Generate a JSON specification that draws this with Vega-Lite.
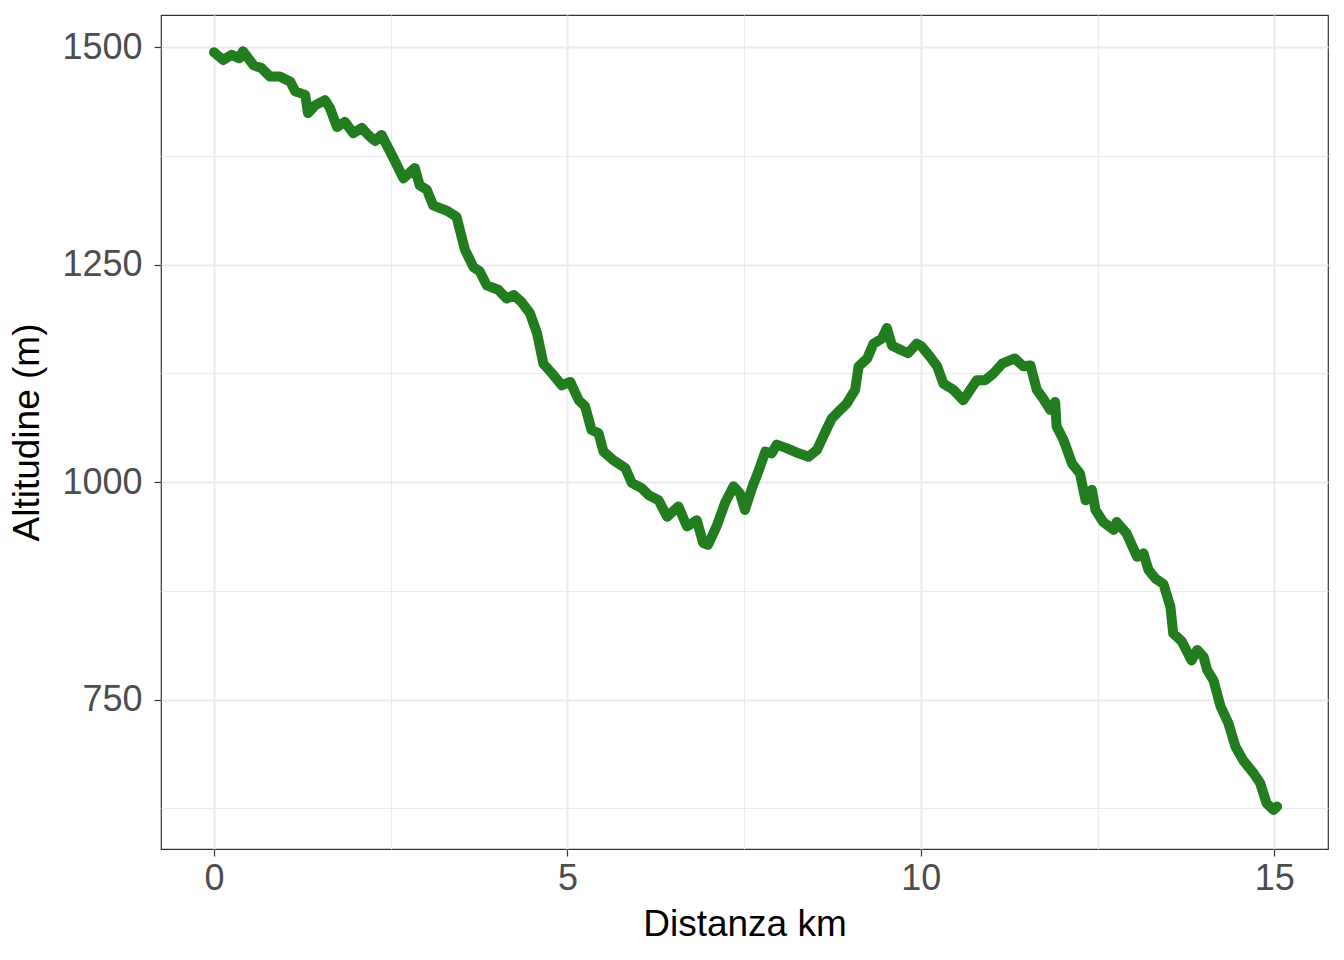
{
  "$schema": "https://vega.github.io/schema/vega-lite/v6.json",
  "width": 1167,
  "height": 834,
  "autosize": {"type": "none"},
  "padding": {"left": 161, "top": 15, "right": 16, "bottom": 111},
  "background": "white",
  "config": {
    "view": {"stroke": "#333333", "strokeWidth": 1.2},
    "font": "Liberation Sans"
  },
  "data": {
    "values": [
      {"km": 0.00, "alt": 1494}, {"km": 0.13, "alt": 1485}, {"km": 0.25, "alt": 1491}, {"km": 0.36, "alt": 1487},
      {"km": 0.41, "alt": 1495}, {"km": 0.56, "alt": 1479}, {"km": 0.67, "alt": 1476}, {"km": 0.79, "alt": 1466},
      {"km": 0.93, "alt": 1466}, {"km": 1.08, "alt": 1460}, {"km": 1.15, "alt": 1449}, {"km": 1.29, "alt": 1445},
      {"km": 1.33, "alt": 1424}, {"km": 1.43, "alt": 1433}, {"km": 1.57, "alt": 1439}, {"km": 1.64, "alt": 1430},
      {"km": 1.74, "alt": 1408}, {"km": 1.85, "alt": 1414}, {"km": 1.97, "alt": 1401}, {"km": 2.09, "alt": 1407},
      {"km": 2.18, "alt": 1399}, {"km": 2.28, "alt": 1392}, {"km": 2.37, "alt": 1399}, {"km": 2.54, "alt": 1372},
      {"km": 2.68, "alt": 1349}, {"km": 2.84, "alt": 1361}, {"km": 2.91, "alt": 1341}, {"km": 3.01, "alt": 1336},
      {"km": 3.10, "alt": 1318}, {"km": 3.29, "alt": 1312}, {"km": 3.43, "alt": 1305}, {"km": 3.55, "alt": 1267},
      {"km": 3.67, "alt": 1247}, {"km": 3.76, "alt": 1242}, {"km": 3.86, "alt": 1226}, {"km": 4.02, "alt": 1221},
      {"km": 4.14, "alt": 1211}, {"km": 4.24, "alt": 1215}, {"km": 4.35, "alt": 1207}, {"km": 4.47, "alt": 1194},
      {"km": 4.57, "alt": 1171}, {"km": 4.66, "alt": 1136}, {"km": 4.78, "alt": 1125}, {"km": 4.92, "alt": 1111},
      {"km": 5.04, "alt": 1115}, {"km": 5.16, "alt": 1094}, {"km": 5.25, "alt": 1087}, {"km": 5.34, "alt": 1060},
      {"km": 5.44, "alt": 1056}, {"km": 5.51, "alt": 1035}, {"km": 5.65, "alt": 1025}, {"km": 5.82, "alt": 1016},
      {"km": 5.91, "alt": 999}, {"km": 6.05, "alt": 993}, {"km": 6.15, "alt": 985}, {"km": 6.29, "alt": 979},
      {"km": 6.41, "alt": 960}, {"km": 6.57, "alt": 972}, {"km": 6.69, "alt": 949}, {"km": 6.83, "alt": 956},
      {"km": 6.92, "alt": 930}, {"km": 6.99, "alt": 928}, {"km": 7.11, "alt": 949}, {"km": 7.23, "alt": 976},
      {"km": 7.35, "alt": 995}, {"km": 7.44, "alt": 987}, {"km": 7.51, "alt": 968}, {"km": 7.61, "alt": 993},
      {"km": 7.70, "alt": 1012}, {"km": 7.80, "alt": 1035}, {"km": 7.89, "alt": 1033}, {"km": 7.96, "alt": 1043},
      {"km": 8.10, "alt": 1039}, {"km": 8.27, "alt": 1033}, {"km": 8.41, "alt": 1029}, {"km": 8.53, "alt": 1037},
      {"km": 8.65, "alt": 1058}, {"km": 8.74, "alt": 1073}, {"km": 8.86, "alt": 1083}, {"km": 8.95, "alt": 1090},
      {"km": 9.07, "alt": 1106}, {"km": 9.12, "alt": 1133}, {"km": 9.24, "alt": 1142}, {"km": 9.33, "alt": 1159},
      {"km": 9.45, "alt": 1165}, {"km": 9.52, "alt": 1177}, {"km": 9.59, "alt": 1157}, {"km": 9.71, "alt": 1152},
      {"km": 9.82, "alt": 1148}, {"km": 9.94, "alt": 1159}, {"km": 10.01, "alt": 1156}, {"km": 10.13, "alt": 1144},
      {"km": 10.23, "alt": 1133}, {"km": 10.32, "alt": 1113}, {"km": 10.46, "alt": 1106}, {"km": 10.60, "alt": 1094},
      {"km": 10.70, "alt": 1106}, {"km": 10.79, "alt": 1117}, {"km": 10.91, "alt": 1117}, {"km": 11.03, "alt": 1125},
      {"km": 11.15, "alt": 1136}, {"km": 11.33, "alt": 1142}, {"km": 11.45, "alt": 1133}, {"km": 11.55, "alt": 1134},
      {"km": 11.64, "alt": 1106}, {"km": 11.73, "alt": 1096}, {"km": 11.83, "alt": 1083}, {"km": 11.90, "alt": 1092},
      {"km": 11.92, "alt": 1064}, {"km": 12.02, "alt": 1048}, {"km": 12.14, "alt": 1021}, {"km": 12.25, "alt": 1010},
      {"km": 12.33, "alt": 979}, {"km": 12.42, "alt": 991}, {"km": 12.47, "alt": 968}, {"km": 12.58, "alt": 954},
      {"km": 12.73, "alt": 945}, {"km": 12.77, "alt": 954}, {"km": 12.91, "alt": 941}, {"km": 13.06, "alt": 914},
      {"km": 13.15, "alt": 918}, {"km": 13.22, "alt": 899}, {"km": 13.32, "alt": 889}, {"km": 13.43, "alt": 883},
      {"km": 13.53, "alt": 857}, {"km": 13.57, "alt": 826}, {"km": 13.69, "alt": 817}, {"km": 13.83, "alt": 795},
      {"km": 13.91, "alt": 807}, {"km": 14.00, "alt": 799}, {"km": 14.05, "alt": 784}, {"km": 14.14, "alt": 772},
      {"km": 14.24, "alt": 742}, {"km": 14.35, "alt": 723}, {"km": 14.45, "alt": 696}, {"km": 14.56, "alt": 680},
      {"km": 14.71, "alt": 665}, {"km": 14.80, "alt": 654}, {"km": 14.89, "alt": 631}, {"km": 14.99, "alt": 623},
      {"km": 15.04, "alt": 627}
    ]
  },
  "mark": {
    "type": "line",
    "color": "#217D1E",
    "strokeWidth": 10,
    "strokeCap": "round",
    "strokeJoin": "round",
    "interpolate": "linear"
  },
  "encoding": {
    "x": {
      "field": "km",
      "type": "quantitative",
      "sort": null,
      "scale": {"domain": [-0.75, 15.76], "nice": false, "zero": false},
      "axis": {
        "title": "Distanza km",
        "values": [0, 2.5, 5, 7.5, 10, 12.5, 15],
        "labelExpr": "datum.value % 5 === 0 ? datum.label : ''",
        "format": "d",
        "domain": false,
        "grid": true,
        "gridColor": "#EBEBEB",
        "gridWidth": {"condition": {"test": "datum.value % 5 === 0", "value": 2}, "value": 1},
        "ticks": true,
        "tickColor": "#333333",
        "tickWidth": 1.2,
        "tickSize": 7,
        "tickOpacity": {"condition": {"test": "datum.value % 5 === 0", "value": 1}, "value": 0},
        "labelFontSize": 36,
        "labelColor": "#4D4D4D",
        "labelPadding": 5,
        "labelFont": "Liberation Sans",
        "titleFont": "Liberation Sans",
        "titleFontSize": 37,
        "titleFontWeight": "normal",
        "titleColor": "#000000",
        "titlePadding": 10
      }
    },
    "y": {
      "field": "alt",
      "type": "quantitative",
      "scale": {"domain": [578.2, 1536.8], "nice": false, "zero": false},
      "axis": {
        "title": "Altitudine (m)",
        "values": [625, 750, 875, 1000, 1125, 1250, 1375, 1500],
        "labelExpr": "datum.value % 250 === 0 ? datum.label : ''",
        "format": "d",
        "domain": false,
        "grid": true,
        "gridColor": "#EBEBEB",
        "gridWidth": {"condition": {"test": "datum.value % 250 === 0", "value": 2}, "value": 1},
        "ticks": true,
        "tickColor": "#333333",
        "tickWidth": 1.2,
        "tickSize": 7,
        "tickOpacity": {"condition": {"test": "datum.value % 250 === 0", "value": 1}, "value": 0},
        "labelFontSize": 36,
        "labelColor": "#4D4D4D",
        "labelPadding": 12,
        "labelFont": "Liberation Sans",
        "titleFont": "Liberation Sans",
        "titleFontSize": 37,
        "titleFontWeight": "normal",
        "titleColor": "#000000",
        "titlePadding": 15
      }
    },
    "order": {"field": "km", "type": "quantitative"}
  }
}
